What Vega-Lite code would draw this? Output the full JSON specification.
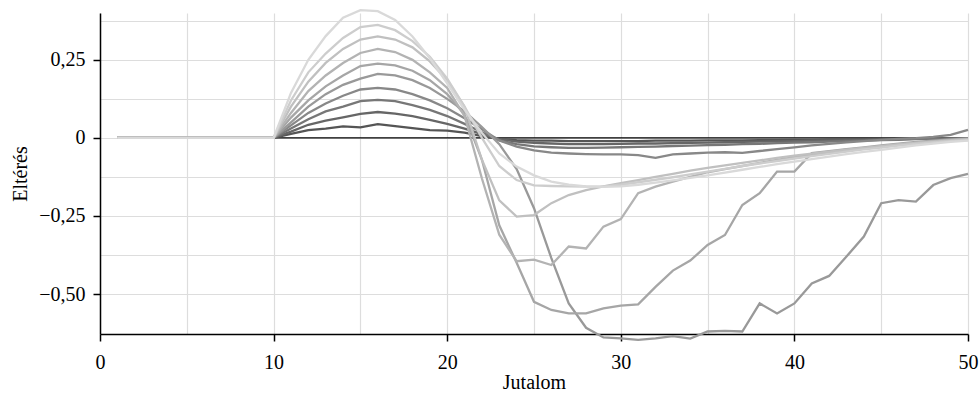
{
  "$schema": "https://vega.github.io/schema/vega-lite/v6.json",
  "width": 868,
  "height": 321,
  "autosize": {"type": "none"},
  "padding": {"left": 100, "top": 13, "right": 11, "bottom": 61},
  "background": "white",
  "config": {
    "view": {"stroke": null},
    "font": "Liberation Serif",
    "axis": {
      "labelFont": "Liberation Serif",
      "titleFont": "Liberation Serif",
      "labelFontSize": 20,
      "titleFontSize": 20,
      "titleFontWeight": "normal",
      "labelColor": "black",
      "titleColor": "black",
      "domainColor": "black",
      "domainWidth": 1.5,
      "tickColor": "black",
      "tickWidth": 1.5,
      "tickSize": 7,
      "gridColor": "#dddddd",
      "gridWidth": 1.2,
      "labelOverlap": false,
      "labelFlush": false
    }
  },
  "encoding": {
    "x": {
      "field": "x",
      "type": "quantitative",
      "scale": {"domain": [0, 50], "nice": false, "zero": false},
      "axis": {
        "title": "Jutalom",
        "values": [0, 5, 10, 15, 20, 25, 30, 35, 40, 45, 50],
        "labelExpr": "datum.value % 10 == 0 ? format(datum.value, 'd') : ''",
        "tickOpacity": {"condition": {"test": "datum.value % 10 == 0", "value": 1}, "value": 0},
        "grid": true,
        "labelPadding": 11,
        "titlePadding": 0
      }
    },
    "y": {
      "field": "value",
      "type": "quantitative",
      "scale": {"domain": [-0.628, 0.4], "nice": false, "zero": false},
      "axis": {
        "title": "Eltérés",
        "values": [-0.5, -0.375, -0.25, -0.125, 0, 0.125, 0.25, 0.375],
        "labelExpr": "abs(datum.value * 4 - round(datum.value * 4)) > 0.01 ? '' : (datum.value == 0 ? '0' : (datum.value < 0 ? '−' : '') + replace(format(abs(datum.value), '.2f'), '.', ','))",
        "tickOpacity": {"condition": {"test": "abs(datum.value * 4 - round(datum.value * 4)) < 0.01", "value": 1}, "value": 0},
        "grid": true,
        "labelPadding": 8,
        "titlePadding": 8
      }
    }
  },
  "layer": [
    {
      "data": {"values": [{"x": 1, "x2": 50, "value": 0}]},
      "mark": {"type": "rule", "color": "black", "strokeWidth": 1.2},
      "encoding": {"x2": {"field": "x2"}}
    },
    {
      "data": {"values": [
        {"x": 1, "s01": 0, "s02": 0, "s03": 0, "s04": 0, "s05": 0, "s06": 0, "s07": 0, "s08": 0, "s09": 0, "s10": 0},
        {"x": 2, "s01": 0, "s02": 0, "s03": 0, "s04": 0, "s05": 0, "s06": 0, "s07": 0, "s08": 0, "s09": 0, "s10": 0},
        {"x": 3, "s01": 0, "s02": 0, "s03": 0, "s04": 0, "s05": 0, "s06": 0, "s07": 0, "s08": 0, "s09": 0, "s10": 0},
        {"x": 4, "s01": 0, "s02": 0, "s03": 0, "s04": 0, "s05": 0, "s06": 0, "s07": 0, "s08": 0, "s09": 0, "s10": 0},
        {"x": 5, "s01": 0, "s02": 0, "s03": 0, "s04": 0, "s05": 0, "s06": 0, "s07": 0, "s08": 0, "s09": 0, "s10": 0},
        {"x": 6, "s01": 0, "s02": 0, "s03": 0, "s04": 0, "s05": 0, "s06": 0, "s07": 0, "s08": 0, "s09": 0, "s10": 0},
        {"x": 7, "s01": 0, "s02": 0, "s03": 0, "s04": 0, "s05": 0, "s06": 0, "s07": 0, "s08": 0, "s09": 0, "s10": 0},
        {"x": 8, "s01": 0, "s02": 0, "s03": 0, "s04": 0, "s05": 0, "s06": 0, "s07": 0, "s08": 0, "s09": 0, "s10": 0},
        {"x": 9, "s01": 0, "s02": 0, "s03": 0, "s04": 0, "s05": 0, "s06": 0, "s07": 0, "s08": 0, "s09": 0, "s10": 0},
        {"x": 10, "s01": 0, "s02": 0, "s03": 0, "s04": 0, "s05": 0, "s06": 0, "s07": 0, "s08": 0, "s09": 0, "s10": 0},
        {"x": 11, "s01": 0.013, "s02": 0.02, "s03": 0.03, "s04": 0.04, "s05": 0.05, "s06": 0.065, "s07": 0.08, "s08": 0.1, "s09": 0.12, "s10": 0.144},
        {"x": 12, "s01": 0.025, "s02": 0.042, "s03": 0.06, "s04": 0.08, "s05": 0.1, "s06": 0.12, "s07": 0.15, "s08": 0.18, "s09": 0.21, "s10": 0.25},
        {"x": 13, "s01": 0.03, "s02": 0.055, "s03": 0.085, "s04": 0.11, "s05": 0.14, "s06": 0.165, "s07": 0.2, "s08": 0.24, "s09": 0.27, "s10": 0.326},
        {"x": 14, "s01": 0.037, "s02": 0.066, "s03": 0.1, "s04": 0.135, "s05": 0.17, "s06": 0.2, "s07": 0.24, "s08": 0.285, "s09": 0.32, "s10": 0.385},
        {"x": 15, "s01": 0.034, "s02": 0.077, "s03": 0.118, "s04": 0.155, "s05": 0.19, "s06": 0.23, "s07": 0.272, "s08": 0.315, "s09": 0.355, "s10": 0.409},
        {"x": 16, "s01": 0.044, "s02": 0.083, "s03": 0.122, "s04": 0.16, "s05": 0.205, "s06": 0.238, "s07": 0.285, "s08": 0.325, "s09": 0.362, "s10": 0.406},
        {"x": 17, "s01": 0.038, "s02": 0.078, "s03": 0.118, "s04": 0.155, "s05": 0.2, "s06": 0.232, "s07": 0.275, "s08": 0.315, "s09": 0.345, "s10": 0.378},
        {"x": 18, "s01": 0.031, "s02": 0.07, "s03": 0.105, "s04": 0.14, "s05": 0.185, "s06": 0.215, "s07": 0.25, "s08": 0.29, "s09": 0.31, "s10": 0.325},
        {"x": 19, "s01": 0.025, "s02": 0.058, "s03": 0.09, "s04": 0.12, "s05": 0.16, "s06": 0.185, "s07": 0.21, "s08": 0.245, "s09": 0.26, "s10": 0.255},
        {"x": 20, "s01": 0.023, "s02": 0.045, "s03": 0.07, "s04": 0.095, "s05": 0.125, "s06": 0.14, "s07": 0.16, "s08": 0.185, "s09": 0.19, "s10": 0.175},
        {"x": 21, "s01": 0.017, "s02": 0.03, "s03": 0.045, "s04": 0.063, "s05": 0.085, "s06": 0.075, "s07": 0.07, "s08": 0.1, "s09": 0.1, "s10": 0.09},
        {"x": 22, "s01": 0.006, "s02": 0.012, "s03": 0.018, "s04": 0.028, "s05": 0.035, "s06": -0.07, "s07": -0.13, "s08": -0.07, "s09": 0.0, "s10": 0.016},
        {"x": 23, "s01": -0.003, "s02": -0.004, "s03": -0.008, "s04": -0.008, "s05": -0.02, "s06": -0.28, "s07": -0.31, "s08": -0.2, "s09": -0.09, "s10": -0.05},
        {"x": 24, "s01": -0.007, "s02": -0.012, "s03": -0.02, "s04": -0.028, "s05": -0.1, "s06": -0.4, "s07": -0.395, "s08": -0.252, "s09": -0.135, "s10": -0.092},
        {"x": 25, "s01": -0.009, "s02": -0.016, "s03": -0.027, "s04": -0.04, "s05": -0.225, "s06": -0.525, "s07": -0.39, "s08": -0.247, "s09": -0.152, "s10": -0.12},
        {"x": 26, "s01": -0.009, "s02": -0.018, "s03": -0.03, "s04": -0.047, "s05": -0.385, "s06": -0.551, "s07": -0.407, "s08": -0.209, "s09": -0.154, "s10": -0.14},
        {"x": 27, "s01": -0.01, "s02": -0.02, "s03": -0.032, "s04": -0.05, "s05": -0.53, "s06": -0.562, "s07": -0.348, "s08": -0.183, "s09": -0.155, "s10": -0.15},
        {"x": 28, "s01": -0.01, "s02": -0.02, "s03": -0.032, "s04": -0.052, "s05": -0.608, "s06": -0.562, "s07": -0.354, "s08": -0.167, "s09": -0.156, "s10": -0.155},
        {"x": 29, "s01": -0.01, "s02": -0.02, "s03": -0.031, "s04": -0.053, "s05": -0.639, "s06": -0.546, "s07": -0.284, "s08": -0.155, "s09": -0.155, "s10": -0.157},
        {"x": 30, "s01": -0.01, "s02": -0.019, "s03": -0.03, "s04": -0.053, "s05": -0.642, "s06": -0.537, "s07": -0.26, "s08": -0.145, "s09": -0.15, "s10": -0.155},
        {"x": 31, "s01": -0.01, "s02": -0.018, "s03": -0.029, "s04": -0.055, "s05": -0.647, "s06": -0.533, "s07": -0.177, "s08": -0.135, "s09": -0.142, "s10": -0.15},
        {"x": 32, "s01": -0.009, "s02": -0.018, "s03": -0.028, "s04": -0.064, "s05": -0.642, "s06": -0.477, "s07": -0.156, "s08": -0.125, "s09": -0.134, "s10": -0.143},
        {"x": 33, "s01": -0.009, "s02": -0.017, "s03": -0.026, "s04": -0.053, "s05": -0.635, "s06": -0.425, "s07": -0.14, "s08": -0.115, "s09": -0.126, "s10": -0.136},
        {"x": 34, "s01": -0.009, "s02": -0.016, "s03": -0.025, "s04": -0.05, "s05": -0.643, "s06": -0.393, "s07": -0.125, "s08": -0.105, "s09": -0.117, "s10": -0.128},
        {"x": 35, "s01": -0.008, "s02": -0.015, "s03": -0.023, "s04": -0.047, "s05": -0.62, "s06": -0.343, "s07": -0.11, "s08": -0.096, "s09": -0.108, "s10": -0.12},
        {"x": 36, "s01": -0.008, "s02": -0.014, "s03": -0.022, "s04": -0.046, "s05": -0.618, "s06": -0.311, "s07": -0.1, "s08": -0.088, "s09": -0.099, "s10": -0.111},
        {"x": 37, "s01": -0.008, "s02": -0.013, "s03": -0.02, "s04": -0.048, "s05": -0.62, "s06": -0.215, "s07": -0.09, "s08": -0.08, "s09": -0.09, "s10": -0.102},
        {"x": 38, "s01": -0.007, "s02": -0.012, "s03": -0.019, "s04": -0.042, "s05": -0.53, "s06": -0.177, "s07": -0.08, "s08": -0.072, "s09": -0.082, "s10": -0.093},
        {"x": 39, "s01": -0.007, "s02": -0.011, "s03": -0.017, "s04": -0.036, "s05": -0.562, "s06": -0.108, "s07": -0.07, "s08": -0.064, "s09": -0.074, "s10": -0.084},
        {"x": 40, "s01": -0.006, "s02": -0.01, "s03": -0.015, "s04": -0.03, "s05": -0.53, "s06": -0.108, "s07": -0.062, "s08": -0.057, "s09": -0.066, "s10": -0.076},
        {"x": 41, "s01": -0.006, "s02": -0.009, "s03": -0.014, "s04": -0.024, "s05": -0.466, "s06": -0.049, "s07": -0.054, "s08": -0.05, "s09": -0.058, "s10": -0.068},
        {"x": 42, "s01": -0.005, "s02": -0.008, "s03": -0.012, "s04": -0.019, "s05": -0.442, "s06": -0.042, "s07": -0.047, "s08": -0.044, "s09": -0.051, "s10": -0.06},
        {"x": 43, "s01": -0.005, "s02": -0.007, "s03": -0.01, "s04": -0.014, "s05": -0.38, "s06": -0.036, "s07": -0.04, "s08": -0.038, "s09": -0.044, "s10": -0.052},
        {"x": 44, "s01": -0.004, "s02": -0.006, "s03": -0.009, "s04": -0.01, "s05": -0.316, "s06": -0.03, "s07": -0.033, "s08": -0.032, "s09": -0.037, "s10": -0.045},
        {"x": 45, "s01": -0.003, "s02": -0.005, "s03": -0.007, "s04": -0.006, "s05": -0.209, "s06": -0.024, "s07": -0.027, "s08": -0.026, "s09": -0.031, "s10": -0.038},
        {"x": 46, "s01": -0.003, "s02": -0.004, "s03": -0.006, "s04": -0.003, "s05": -0.199, "s06": -0.018, "s07": -0.021, "s08": -0.021, "s09": -0.025, "s10": -0.031},
        {"x": 47, "s01": -0.002, "s02": -0.003, "s03": -0.004, "s04": -0.001, "s05": -0.204, "s06": -0.013, "s07": -0.016, "s08": -0.016, "s09": -0.019, "s10": -0.024},
        {"x": 48, "s01": -0.002, "s02": -0.002, "s03": -0.003, "s04": 0.003, "s05": -0.151, "s06": -0.009, "s07": -0.011, "s08": -0.012, "s09": -0.014, "s10": -0.018},
        {"x": 49, "s01": -0.001, "s02": -0.002, "s03": -0.002, "s04": 0.01, "s05": -0.129, "s06": -0.005, "s07": -0.007, "s08": -0.008, "s09": -0.01, "s10": -0.013},
        {"x": 50, "s01": -0.001, "s02": -0.001, "s03": -0.001, "s04": 0.026, "s05": -0.115, "s06": -0.002, "s07": -0.004, "s08": -0.005, "s09": -0.007, "s10": -0.009}
      ]},
      "transform": [
        {"fold": ["s01", "s02", "s03", "s04", "s05", "s06", "s07", "s08", "s09", "s10"], "as": ["series", "value"]}
      ],
      "mark": {"type": "line", "strokeWidth": 2.3},
      "encoding": {
        "color": {
          "field": "series",
          "type": "nominal",
          "scale": {
            "domain": ["s01", "s02", "s03", "s04", "s05", "s06", "s07", "s08", "s09", "s10"],
            "range": ["#555555", "#666666", "#777777", "#888888", "#999999", "#a6a6a6", "#b3b3b3", "#c0c0c0", "#cdcdcd", "#d9d9d9"]
          },
          "legend": null
        }
      }
    }
  ]
}
